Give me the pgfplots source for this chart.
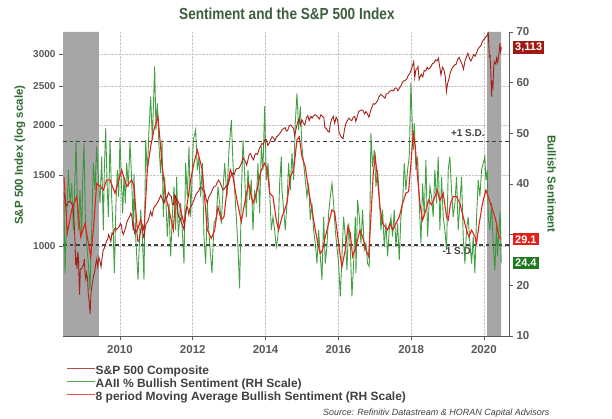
\documentclass[border=0pt]{standalone}
\usepackage{pgfplots}
\pgfplotsset{compat=1.18}
\usepackage{fontspec}
\setmainfont{Liberation Sans}
\newfontfamily\narrowfont{Liberation Sans}[FakeStretch=0.85]
\definecolor{spred}{HTML}{A3221C}
\definecolor{mared}{HTML}{E3211B}
\definecolor{sentgreen}{HTML}{2F962F}
\definecolor{bandgray}{HTML}{A6A6A6}
\definecolor{ticktext}{HTML}{595959}
\definecolor{labgreen}{HTML}{2F6B2F}
\definecolor{titlecol}{HTML}{3D5E3D}
\definecolor{boxdark}{HTML}{A01A14}
\definecolor{boxred}{HTML}{E3211B}
\definecolor{boxgreen}{HTML}{1F7A1F}
\definecolor{sdgray}{HTML}{404040}
\begin{document}
\begin{tikzpicture}
\useasboundingbox (0pt,0pt) rectangle (612pt,419pt);
% ---------- Axis A: log S&P scale, bands, grid ----------
\begin{axis}[at={(63pt,83pt)}, anchor=south west, width=446pt, height=304pt, scale only axis,
  xmin=2008.434, xmax=2020.69, ymode=log, ymin=600, ymax=3400,
  axis x line*=bottom, axis y line*=left,
  y axis line style={draw=none}, x axis line style={draw=ticktext, line width=0.8pt},
  xtick={2010,2012,2014,2016,2018,2020}, xticklabels={2010,2012,2014,2016,2018,2020},
  ytick={1000,1500,2000,2500,3000}, yticklabels={1000,1500,2000,2500,3000},
  minor ytick={},
  tick align=outside, major tick length=4pt,
  tick style={draw=ticktext, line width=0.6pt},
  xmajorgrids, ymajorgrids, grid style={densely dotted, gray!45, line width=0.6pt},
  yticklabel style={font=\bfseries\fontsize{10}{12}\selectfont, text=ticktext},
  xticklabel style={font=\bfseries\fontsize{11.5}{13}\selectfont, text=ticktext, yshift=-2pt},
  ylabel={S\&P 500 Index (log scale)},
  ylabel style={at={(axis description cs:-0.0964,0.595)}, anchor=center, font=\bfseries\fontsize{11.5}{13}\selectfont, text=labgreen},
  title={Sentiment and the S\&P 500 Index},
  title style={at={(axis description cs:0.502,1.039)}, anchor=center, font=\narrowfont\bfseries\fontsize{16}{18}\selectfont, text=titlecol},
]
\addplot[draw=none, fill=bandgray] coordinates {(2008.434,600) (2009.42,600) (2009.42,3400) (2008.434,3400) (2008.434,600)};
\addplot[draw=none, fill=bandgray] coordinates {(2020.09,600) (2020.47,600) (2020.47,3400) (2020.09,3400) (2020.09,600)};
\end{axis}
% ---------- Axis B: sentiment (right scale) ----------
\begin{axis}[at={(63pt,83pt)}, anchor=south west, width=446pt, height=304pt, scale only axis,
  xmin=2008.434, xmax=2020.69, ymin=10, ymax=70, clip mode=individual,
  axis x line=none, axis y line*=right,
  y axis line style={draw=ticktext, line width=0.8pt},
  ytick={10,20,30,40,50,60,70}, yticklabels={10,20,{},40,50,60,70},
  tick align=outside, major tick length=4pt,
  tick style={draw=ticktext, line width=0.6pt},
  tick label style={font=\bfseries\fontsize{11.5}{13}\selectfont, text=ticktext},
  ylabel={Bullish Sentiment},
  ylabel style={at={(axis description cs:1.096,0.5)}, anchor=center, rotate=180, font=\bfseries\fontsize{11.5}{13}\selectfont, text=labgreen},
  legend style={at={(axis description cs:0.0067,-0.0955)}, anchor=north west, draw=none, fill=none,
    font=\bfseries\fontsize{12}{13}\selectfont, text=sdgray, inner sep=0pt, row sep=0pt,
    nodes={inner sep=0.5pt, text height=9pt, text depth=3pt},
    /tikz/every even column/.append style={column sep=3pt}},
  legend cell align=left,
  legend image code/.code={\draw[#1] (0pt,3pt) -- (28pt,3pt);},
]
\addlegendimage{spred!80!white, line width=1pt}
\addlegendentry{S\&P 500 Composite}
\addlegendimage{sentgreen!85!white, line width=1pt}
\addlegendentry{AAII \% Bullish Sentiment (RH Scale)}
\addlegendimage{mared!80!white, line width=1pt}
\addlegendentry{8 period Moving Average Bullish Sentiment (RH Scale)}
\addplot[sdgray, line width=1.1pt, dash pattern=on 3.5pt off 3pt, forget plot] coordinates {(2008.434,48.35) (2020.69,48.35)};
\addplot[sdgray, line width=1.1pt, dash pattern=on 3.5pt off 3pt, forget plot] coordinates {(2008.434,27.96) (2020.69,27.96)};
\node[font=\bfseries\fontsize{10}{12}\selectfont, text=sdgray] at (axis cs:2019.56,50.07) {+1 S.D.};
\node[font=\bfseries\fontsize{10}{12}\selectfont, text=sdgray] at (axis cs:2019.29,26.78) {-1 S.D.};
% AAII weekly bullish sentiment
\addplot[sentgreen, line width=0.9pt, opacity=0.9, forget plot] coordinates {
(2008.462,36.8) (2008.489,22.4) (2008.535,33.5) (2008.581,42.8) (2008.627,36.2) (2008.673,40.1)
(2008.718,30.9) (2008.755,38.8) (2008.792,48.7) (2008.828,36.2) (2008.856,30.9) (2008.901,38.8)
(2008.947,29.6) (2008.975,40.8) (2009.011,48.0) (2009.048,33.5) (2009.085,28.3) (2009.130,24.3)
(2009.176,19.1) (2009.222,30.9) (2009.268,44.1) (2009.314,38.8) (2009.359,47.4) (2009.405,41.4)
(2009.451,36.2) (2009.497,45.4) (2009.542,30.9) (2009.570,42.8) (2009.607,51.0) (2009.643,40.8)
(2009.680,33.5) (2009.726,48.7) (2009.771,37.5) (2009.817,29.6) (2009.845,22.4) (2009.890,36.2)
(2009.927,42.8) (2009.964,37.5) (2010.000,49.3) (2010.037,40.8) (2010.074,34.2) (2010.110,41.4)
(2010.147,36.2) (2010.184,44.1) (2010.229,39.5) (2010.275,48.4) (2010.321,40.8) (2010.367,30.9)
(2010.385,42.1) (2010.431,29.6) (2010.495,21.1) (2010.568,34.9) (2010.614,29.6) (2010.660,21.1)
(2010.706,48.7) (2010.751,42.1) (2010.797,50.7) (2010.843,57.2) (2010.889,48.7) (2010.953,63.2)
(2010.989,50.7) (2011.026,55.9) (2011.072,47.4) (2011.118,42.1) (2011.154,48.7) (2011.191,33.5)
(2011.227,41.4) (2011.264,36.2) (2011.301,29.6) (2011.347,36.2) (2011.392,25.7) (2011.438,33.5)
(2011.484,39.5) (2011.530,30.9) (2011.557,41.4) (2011.603,29.6) (2011.667,36.2) (2011.713,30.9)
(2011.759,24.3) (2011.804,44.1) (2011.850,37.5) (2011.896,47.4) (2011.942,33.5) (2012.015,48.7)
(2012.079,50.7) (2012.125,42.8) (2012.171,45.4) (2012.217,37.5) (2012.262,44.1) (2012.308,29.6)
(2012.354,24.3) (2012.400,36.2) (2012.418,33.5) (2012.464,28.3) (2012.528,22.4) (2012.583,32.2)
(2012.647,33.5) (2012.693,39.5) (2012.739,36.2) (2012.784,32.2) (2012.830,38.8) (2012.876,44.1)
(2012.940,37.5) (2012.995,46.7) (2013.059,52.6) (2013.105,44.1) (2013.151,38.8) (2013.196,33.5)
(2013.242,27.6) (2013.288,19.4) (2013.334,37.5) (2013.380,48.7) (2013.425,42.1) (2013.471,33.5)
(2013.517,42.8) (2013.563,36.8) (2013.608,40.8) (2013.654,30.9) (2013.700,38.8) (2013.746,36.2)
(2013.792,44.1) (2013.837,34.2) (2013.883,47.4) (2013.929,42.8) (2013.975,55.3) (2014.021,40.8)
(2014.066,44.1) (2014.112,38.8) (2014.158,30.9) (2014.204,33.5) (2014.250,30.9) (2014.295,27.6)
(2014.341,29.6) (2014.387,40.1) (2014.433,45.4) (2014.451,38.8) (2014.497,34.9) (2014.543,30.9)
(2014.588,36.2) (2014.634,44.1) (2014.680,38.8) (2014.726,46.1) (2014.772,40.8) (2014.817,52.0)
(2014.863,57.9) (2014.909,50.7) (2014.955,55.3) (2015.000,47.4) (2015.046,44.1) (2015.092,40.8)
(2015.138,37.5) (2015.184,40.1) (2015.229,32.9) (2015.275,36.2) (2015.321,30.9) (2015.367,28.3)
(2015.413,24.3) (2015.458,30.9) (2015.504,25.7) (2015.550,21.1) (2015.596,33.5) (2015.641,24.3)
(2015.687,27.6) (2015.733,34.2) (2015.779,37.5) (2015.825,40.1) (2015.870,36.2) (2015.916,30.9)
(2015.962,27.6) (2016.008,24.3) (2016.054,17.8) (2016.099,25.7) (2016.145,33.5) (2016.191,29.6)
(2016.237,23.0) (2016.283,32.2) (2016.328,27.6) (2016.374,17.8) (2016.420,24.3) (2016.466,33.5)
(2016.484,22.4) (2016.530,36.8) (2016.576,33.5) (2016.621,28.3) (2016.667,34.9) (2016.713,27.0)
(2016.759,28.3) (2016.804,24.3) (2016.850,23.7) (2016.896,50.0) (2016.942,43.4) (2016.988,46.7)
(2017.033,39.5) (2017.079,42.8) (2017.125,37.5) (2017.171,30.9) (2017.217,34.9) (2017.262,27.6)
(2017.308,32.2) (2017.354,25.7) (2017.400,30.9) (2017.446,33.5) (2017.491,29.6) (2017.537,34.9)
(2017.583,27.6) (2017.629,32.2) (2017.674,25.0) (2017.720,33.5) (2017.766,36.2) (2017.812,44.1)
(2017.858,38.8) (2017.903,42.8) (2017.949,45.4) (2017.995,59.9) (2018.022,53.9) (2018.059,46.7)
(2018.087,52.0) (2018.132,42.8) (2018.178,45.4) (2018.224,36.2) (2018.270,28.3) (2018.316,40.1)
(2018.361,33.5) (2018.407,44.7) (2018.453,29.6) (2018.516,39.5) (2018.562,37.5) (2018.608,33.5)
(2018.653,42.8) (2018.699,36.2) (2018.745,45.4) (2018.791,30.9) (2018.837,41.4) (2018.882,33.5)
(2018.928,30.9) (2018.974,27.0) (2019.020,42.8) (2019.065,45.4) (2019.111,38.8) (2019.157,33.5)
(2019.203,36.2) (2019.249,41.4) (2019.294,30.9) (2019.340,36.2) (2019.386,41.4) (2019.432,29.6)
(2019.478,24.3) (2019.523,30.9) (2019.569,33.5) (2019.615,28.3) (2019.661,24.3) (2019.707,29.6)
(2019.752,22.4) (2019.798,33.5) (2019.844,40.8) (2019.890,37.5) (2019.936,42.8) (2019.981,44.1)
(2020.027,45.4) (2020.054,40.8) (2020.091,42.8) (2020.119,33.5) (2020.164,30.9) (2020.210,36.2)
(2020.256,28.3) (2020.302,23.0) (2020.348,32.2) (2020.375,25.7) (2020.412,30.9) (2020.448,34.5)
(2020.476,24.4)
};
% 8 period moving average
\addplot[mared, line width=1.1pt, forget plot] coordinates {
(2008.462,41.4) (2008.553,30.3) (2008.673,34.9) (2008.810,37.5) (2008.920,29.6) (2009.039,32.2)
(2009.194,25.7) (2009.268,30.9) (2009.359,40.1) (2009.451,39.5) (2009.542,38.8) (2009.634,40.8)
(2009.726,40.8) (2009.863,38.2) (2010.046,42.8) (2010.184,39.5) (2010.321,40.8) (2010.385,39.5)
(2010.477,30.9) (2010.568,32.9) (2010.660,30.9) (2010.751,42.8) (2010.843,47.4) (2010.934,50.7)
(2011.044,53.3) (2011.163,43.4) (2011.255,37.5) (2011.347,34.9) (2011.466,30.9) (2011.530,37.5)
(2011.621,36.2) (2011.713,33.5) (2011.759,32.2) (2011.850,36.2) (2011.942,40.8) (2012.033,44.1)
(2012.125,46.7) (2012.262,42.8) (2012.400,30.9) (2012.510,29.3) (2012.601,30.9) (2012.693,35.5)
(2012.784,32.9) (2012.857,33.5) (2012.940,38.8) (2013.032,42.8) (2013.105,41.4) (2013.196,37.5)
(2013.334,32.6) (2013.425,36.2) (2013.535,40.1) (2013.654,36.2) (2013.746,38.2) (2013.865,42.4)
(2013.975,44.1) (2014.048,42.8) (2014.112,38.2) (2014.204,37.5) (2014.295,32.9) (2014.360,30.9)
(2014.451,33.5) (2014.524,34.9) (2014.588,36.2) (2014.680,41.4) (2014.772,42.8) (2014.863,48.7)
(2014.927,49.3) (2015.000,45.4) (2015.092,43.4) (2015.184,38.8) (2015.275,34.9) (2015.367,30.9)
(2015.458,27.6) (2015.504,26.3) (2015.568,27.0) (2015.641,29.6) (2015.733,32.2) (2015.825,34.9)
(2015.898,34.5) (2015.962,30.9) (2016.054,25.7) (2016.099,23.7) (2016.191,27.0) (2016.264,31.6)
(2016.328,30.3) (2016.392,25.7) (2016.484,27.6) (2016.594,30.9) (2016.667,29.6) (2016.759,27.0)
(2016.832,25.7) (2016.896,33.5) (2016.960,42.1) (2017.015,45.4) (2017.079,40.8) (2017.143,35.5)
(2017.217,32.2) (2017.290,31.6) (2017.354,30.9) (2017.418,32.2) (2017.491,30.9) (2017.583,32.2)
(2017.674,33.5) (2017.766,36.2) (2017.858,38.2) (2017.931,38.5) (2017.995,44.1) (2018.059,50.0)
(2018.114,47.4) (2018.178,41.4) (2018.242,36.2) (2018.316,32.9) (2018.407,34.9) (2018.480,36.8)
(2018.562,35.9) (2018.653,37.5) (2018.718,38.8) (2018.791,36.8) (2018.882,38.2) (2018.974,33.5)
(2019.020,32.9) (2019.084,36.2) (2019.157,37.5) (2019.249,37.5) (2019.340,36.2) (2019.432,33.5)
(2019.523,30.9) (2019.587,29.6) (2019.661,30.9) (2019.752,29.6) (2019.798,28.3) (2019.871,32.2)
(2019.963,36.2) (2020.054,38.8) (2020.119,37.5) (2020.210,35.5) (2020.302,33.5) (2020.348,32.2)
(2020.412,29.6) (2020.476,29.1)
};
\coordinate (lab291) at (axis cs:2020.69,29.1);
\coordinate (lab244) at (axis cs:2020.69,24.4);
\node[anchor=east, font=\itshape\fontsize{9}{10}\selectfont, text=sdgray] at (axis description cs:1.0987,-0.2533) {Source: Refinitiv Datastream \& HORAN Capital Advisors};
\end{axis}
% ---------- Axis C: S&P 500 line (log scale, hidden axis) ----------
\begin{axis}[at={(63pt,83pt)}, anchor=south west, width=446pt, height=304pt, scale only axis,
  xmin=2008.434, xmax=2020.69, ymode=log, ymin=600, ymax=3400, hide axis]
\addplot[spred, line width=0.9pt] coordinates {
(2008.46,1360) (2008.50,1280) (2008.54,1260) (2008.58,1290) (2008.62,1295) (2008.67,1280)
(2008.71,1250) (2008.73,1200) (2008.75,1100) (2008.77,1000) (2008.78,900) (2008.80,940)
(2008.82,880) (2008.84,970) (2008.86,930) (2008.88,800) (2008.89,760) (2008.91,880)
(2008.94,880) (2008.97,890) (2009.00,900) (2009.02,930) (2009.04,850) (2009.06,830)
(2009.08,860) (2009.11,830) (2009.13,760) (2009.15,735) (2009.18,680) (2009.20,760)
(2009.23,800) (2009.25,820) (2009.28,850) (2009.31,870) (2009.33,900) (2009.36,930)
(2009.39,890) (2009.42,940) (2009.45,920) (2009.48,890) (2009.51,940) (2009.54,980)
(2009.57,990) (2009.60,1010) (2009.63,1030) (2009.66,1040) (2009.69,1070) (2009.72,1050)
(2009.75,1030) (2009.78,1080) (2009.81,1070) (2009.84,1100) (2009.87,1110) (2009.90,1100)
(2009.94,1110) (2009.98,1120) (2010.01,1140) (2010.04,1130) (2010.06,1090) (2010.09,1070)
(2010.12,1090) (2010.15,1110) (2010.19,1150) (2010.23,1170) (2010.27,1190) (2010.30,1210)
(2010.33,1180) (2010.36,1110) (2010.38,1130) (2010.40,1080) (2010.43,1100) (2010.46,1090)
(2010.49,1030) (2010.52,1030) (2010.55,1070) (2010.58,1110) (2010.61,1120) (2010.64,1060)
(2010.66,1050) (2010.69,1110) (2010.72,1140) (2010.76,1150) (2010.80,1180) (2010.84,1220)
(2010.88,1190) (2010.92,1240) (2010.96,1260) (2011.00,1270) (2011.04,1290) (2011.08,1310)
(2011.12,1340) (2011.15,1320) (2011.19,1290) (2011.21,1280) (2011.25,1330) (2011.29,1320)
(2011.33,1360) (2011.37,1340) (2011.41,1330) (2011.44,1270) (2011.47,1270) (2011.50,1340)
(2011.54,1320) (2011.57,1290) (2011.60,1200) (2011.62,1180) (2011.65,1180) (2011.69,1140)
(2011.72,1130) (2011.76,1100) (2011.79,1160) (2011.82,1240) (2011.86,1250) (2011.89,1200)
(2011.92,1240) (2011.96,1260) (2012.00,1280) (2012.04,1310) (2012.08,1340) (2012.12,1360)
(2012.16,1370) (2012.20,1400) (2012.24,1400) (2012.28,1380) (2012.32,1370) (2012.36,1320)
(2012.40,1280) (2012.43,1320) (2012.47,1340) (2012.51,1360) (2012.55,1390) (2012.59,1410)
(2012.63,1410) (2012.67,1440) (2012.71,1460) (2012.75,1440) (2012.79,1410) (2012.83,1380)
(2012.87,1390) (2012.91,1410) (2012.95,1420) (2012.98,1430) (2013.02,1480) (2013.06,1500)
(2013.10,1520) (2013.14,1510) (2013.18,1550) (2013.22,1560) (2013.26,1560) (2013.30,1580)
(2013.34,1610) (2013.38,1660) (2013.42,1640) (2013.45,1620) (2013.48,1590) (2013.51,1630)
(2013.55,1690) (2013.59,1700) (2013.63,1660) (2013.67,1640) (2013.71,1690) (2013.74,1700)
(2013.78,1690) (2013.82,1740) (2013.86,1770) (2013.90,1800) (2013.94,1790) (2013.98,1840)
(2014.02,1840) (2014.06,1780) (2014.10,1800) (2014.14,1840) (2014.18,1870) (2014.22,1860)
(2014.26,1830) (2014.30,1870) (2014.34,1880) (2014.38,1900) (2014.42,1920) (2014.46,1950)
(2014.50,1960) (2014.54,1970) (2014.57,1930) (2014.61,1940) (2014.65,1990) (2014.69,2000)
(2014.73,1980) (2014.77,1960) (2014.80,1880) (2014.84,1960) (2014.88,2030) (2014.92,2070)
(2014.96,2000) (2015.00,2060) (2015.04,2020) (2015.08,2000) (2015.12,2080) (2015.16,2110)
(2015.20,2050) (2015.24,2100) (2015.28,2080) (2015.32,2110) (2015.36,2120) (2015.40,2110)
(2015.44,2090) (2015.48,2070) (2015.52,2120) (2015.56,2100) (2015.60,2090) (2015.63,1970)
(2015.67,1960) (2015.71,1930) (2015.75,1920) (2015.78,2010) (2015.82,2070) (2015.86,2100)
(2015.90,2020) (2015.94,2090) (2015.98,2060) (2016.02,1920) (2016.06,1880) (2016.10,1860)
(2016.13,1850) (2016.17,1950) (2016.21,2020) (2016.25,2050) (2016.29,2080) (2016.33,2060)
(2016.37,2050) (2016.41,2090) (2016.45,2100) (2016.48,2040) (2016.52,2100) (2016.56,2160)
(2016.60,2170) (2016.64,2180) (2016.68,2170) (2016.72,2130) (2016.76,2160) (2016.80,2130)
(2016.84,2090) (2016.88,2160) (2016.92,2210) (2016.96,2260) (2017.00,2250) (2017.04,2270)
(2017.08,2300) (2017.12,2350) (2017.16,2380) (2017.20,2370) (2017.24,2350) (2017.28,2330)
(2017.32,2390) (2017.36,2390) (2017.40,2420) (2017.44,2430) (2017.48,2440) (2017.52,2430)
(2017.56,2470) (2017.60,2470) (2017.64,2430) (2017.68,2470) (2017.72,2500) (2017.76,2550)
(2017.80,2570) (2017.84,2580) (2017.88,2600) (2017.92,2650) (2017.96,2680) (2018.00,2740)
(2018.04,2810) (2018.07,2870) (2018.10,2620) (2018.13,2740) (2018.16,2750) (2018.19,2790)
(2018.22,2590) (2018.25,2640) (2018.28,2670) (2018.32,2630) (2018.36,2730) (2018.40,2720)
(2018.44,2780) (2018.47,2750) (2018.51,2760) (2018.55,2800) (2018.59,2840) (2018.63,2850)
(2018.67,2900) (2018.71,2880) (2018.75,2930) (2018.79,2770) (2018.82,2660) (2018.86,2780)
(2018.90,2740) (2018.94,2630) (2018.97,2420) (2019.00,2530) (2019.04,2600) (2019.08,2700)
(2019.12,2760) (2019.16,2790) (2019.20,2820) (2019.24,2830) (2019.28,2910) (2019.32,2940)
(2019.36,2880) (2019.40,2830) (2019.44,2750) (2019.48,2880) (2019.52,2950) (2019.56,3010)
(2019.60,2930) (2019.64,2880) (2019.68,2930) (2019.72,2990) (2019.76,2960) (2019.80,3020)
(2019.84,3090) (2019.88,3120) (2019.92,3150) (2019.96,3220) (2020.00,3260) (2020.04,3290)
(2020.08,3330) (2020.12,3380) (2020.15,2950) (2020.17,2970) (2020.19,2710) (2020.21,2350)
(2020.23,2540) (2020.25,2490) (2020.27,2790) (2020.29,2870) (2020.31,2840) (2020.33,2830)
(2020.35,2930) (2020.38,2860) (2020.40,2950) (2020.42,3040) (2020.44,3190) (2020.46,3040)
(2020.48,3113)
};
\coordinate (lab3113) at (axis cs:2020.69,3113);
\end{axis}
% value boxes at the right edge
\node[anchor=west, xshift=4pt, fill=boxdark, text=white, font=\bfseries\fontsize{11}{12}\selectfont, inner xsep=2pt, inner ysep=2pt] at (lab3113) {3,113};
\node[anchor=west, xshift=4pt, fill=boxred, text=white, font=\bfseries\fontsize{11}{12}\selectfont, inner xsep=2pt, inner ysep=2pt] at (lab291) {29.1};
\node[anchor=west, xshift=4pt, fill=boxgreen, text=white, font=\bfseries\fontsize{11}{12}\selectfont, inner xsep=2pt, inner ysep=2pt] at (lab244) {24.4};
\end{tikzpicture}
\end{document}
